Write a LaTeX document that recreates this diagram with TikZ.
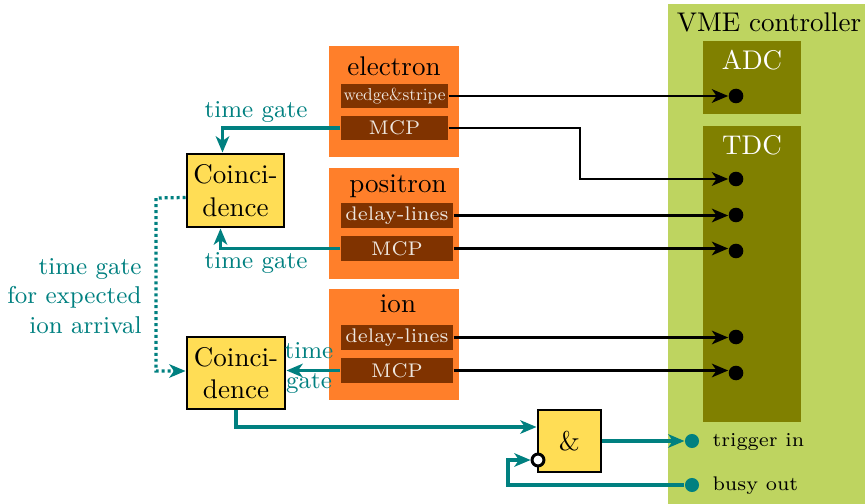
\documentclass[tikz,border=0pt]{standalone}
\usetikzlibrary{arrows.meta,fit,calc}
\definecolor{vmegreen}{RGB}{190,212,96}
\definecolor{modolive}{RGB}{128,128,0}
\definecolor{detorange}{RGB}{255,127,42}
\definecolor{chanbrown}{RGB}{128,51,0}
\definecolor{chantext}{RGB}{238,230,222}
\definecolor{coinyellow}{RGB}{255,221,85}
\definecolor{gateteal}{RGB}{0,128,128}
\newcommand\pxl{0.37pt}
\begin{document}
\begin{tikzpicture}[x=0.37pt,y=-0.37pt,
  region/.style={fill=#1,draw=none,inner sep=0pt},
  modlabel/.style={text=white,inner sep=0pt},
  chan/.style={fill=chanbrown,inner sep=0pt},
  chanlabel/.style={text=chantext,inner sep=0pt,font=\fontsize{7.3}{9}\selectfont},
  coin/.style={fill=coinyellow,draw=black,line width=1.1pt,inner sep=0pt},
  indot/.style={circle,fill=black,inner sep=0pt,minimum size=5.4pt},
  iodot/.style={circle,fill=gateteal,inner sep=0pt,minimum size=5.2pt},
  tip/.style={-{Stealth[length=6pt,width=5pt,inset=1.7pt]}},
  sig/.style={tip,line width=1.1pt,black},
  gate/.style={tip,line width=1.2pt,gateteal},
  gatelabel/.style={text=gateteal,font=\small,inner sep=0pt},
  iolabel/.style={anchor=west,inner sep=0pt,font=\fontsize{7.3}{9}\selectfont}]
\useasboundingbox (0,0) rectangle (865,504);

% VME crate with its ADC and TDC modules
\node[region=vmegreen,fit={(668,4)(865,504)}] (vme) {};
\node[inner sep=0pt] (vmelabel) at (769,22) {VME controller};
\node[region=modolive,fit={(703,41)(801,114)}] (adc) {};
\node[modlabel] (adclabel) at (752,60) {ADC};
\node[region=modolive,fit={(703,126)(801,422)}] (tdc) {};
\node[modlabel] (tdclabel) at (752,145) {TDC};

% module inputs
\node[indot] (adcin) at (736,96) {};
\node[indot] (tdc1) at (736,179) {};
\node[indot] (tdc2) at (736,215) {};
\node[indot] (tdc3) at (736,251) {};
\node[indot] (tdc4) at (736,337) {};
\node[indot] (tdc5) at (736,373) {};

% trigger in / busy out
\node[iodot] (trig) at (692,441) {};
\node[iolabel] (triglabel) at (712,442) {trigger in};
\node[iodot] (busy) at (692,485) {};
\node[iolabel] (busylabel) at (712,486) {busy out};

% detectors
\node[region=detorange,fit={(329,46)(459,157)}] (el) {};
\node[inner sep=0pt] (eltitle) at (394,66) {electron};
\node[chan,fit={(341,84)(448,108)}] (elws) {};
\node[chanlabel,font=\normalsize] at (elws) {\scalebox{0.64}{wedge\&stripe}};
\node[chan,fit={(341,116)(448,140)}] (elmcp) {};
\node[chanlabel] at (elmcp) {MCP};

\node[region=detorange,fit={(329,168)(459,279)}] (po) {};
\node[inner sep=0pt] (potitle) at (398,186) {positron};
\node[chan,fit={(341,203)(453,228)}] (podl) {};
\node[chanlabel] at (podl) {delay-lines};
\node[chan,fit={(341,236)(453,261)}] (pomcp) {};
\node[chanlabel] at (pomcp) {MCP};

\node[region=detorange,fit={(329,289)(459,400)}] (ion) {};
\node[inner sep=0pt] (iontitle) at (398,304) {ion};
\node[chan,fit={(341,325)(453,350)}] (iondl) {};
\node[chanlabel] at (iondl) {delay-lines};
\node[chan,fit={(341,358)(453,383)}] (ionmcp) {};
\node[chanlabel] at (ionmcp) {MCP};

% coincidence units and gate
\node[coin,fit={(187,154)(284,227)}] (co1) {};
\node[align=center,inner sep=0pt] at (co1) {Coinci-\\dence};
\node[coin,fit={(187,337)(285,409)}] (co2) {};
\node[align=center,inner sep=0pt] at (co2) {Coinci-\\dence};
\node[coin,fit={(538,410)(601,472)}] (andgate) {};
\node[inner sep=0pt] at (andgate) {\&};
\node[circle,draw=black,fill=white,line width=1.1pt,inner sep=0pt,minimum size=4.4pt] (neg) at (538,460) {};

% signals to the VME modules
\draw[sig] (elws.east) -- (elws.east -| adcin.west);
\coordinate (elbend) at (580,128);
\draw[sig] (elmcp.east) -- (elbend) |- (tdc1);
\draw[sig] (podl.east) -- (podl.east -| tdc2.west);
\draw[sig] (pomcp.east) -- (pomcp.east -| tdc3.west);
\draw[sig] (iondl.east) -- (iondl.east -| tdc4.west);
\draw[sig] (ionmcp.east) -- (ionmcp.east -| tdc5.west);

% time gates
\draw[gate] (elmcp.west) -| ([xshift=-13*\pxl]co1.north);
\node[gatelabel] (tg1) at (256,112) {time gate};
\draw[gate] (pomcp.west) -| ([xshift=-15*\pxl]co1.south);
\node[gatelabel] (tg2) at (256,263) {time gate};
\draw[gate] (ionmcp.west) -- (ionmcp.west -| co2.east);
\node[gatelabel,align=center] (tg3) at (309,368) {time\\gate};
\coordinate (dotbend) at (156,198);
\draw[gate,dash pattern=on 1.1pt off 1.1pt] ([yshift=-7*\pxl]co1.west) -- (dotbend) |- ([yshift=2*\pxl]co2.west);
\node[gatelabel,align=right,anchor=east] (tg4) at (142,296) {time gate\\for expected\\ion arrival};

% trigger logic
\draw[gate] (co2.south) |- ([yshift=14*\pxl]andgate.west);
\draw[gate] (andgate.east) -- (trig);
\coordinate (busybend) at (508,485);
\draw[gate] (busy) -- (busybend) |- (neg);
\end{tikzpicture}
\end{document}
